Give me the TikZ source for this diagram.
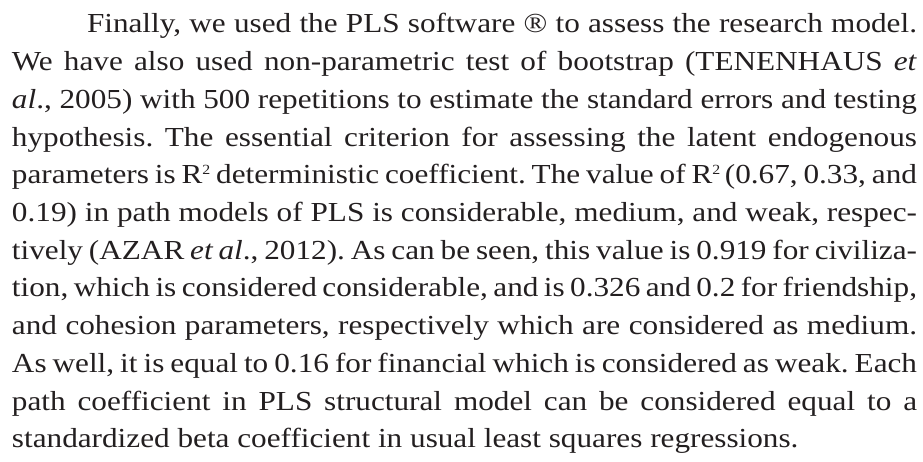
\documentclass[tikz,border=0pt]{standalone}
\usepackage{fontspec}
\setmainfont[FakeStretch=1.135]{Liberation Serif}
\definecolor{ink}{HTML}{231F20}
\newcommand\rsq{R\raisebox{0.34em}{\fontsize{14}{14}\selectfont 2}}
\begin{document}
\frenchspacing
\begin{tikzpicture}[x=1pt,y=1pt,
  txtline/.style={anchor=base west,inner sep=0pt,outer sep=0pt,text=ink,font=\fontsize{27.5}{37.7}\selectfont\frenchspacing}]
\useasboundingbox (0,0) rectangle (923,461);
\def\tw{905pt}
\node[txtline] (l1) at (87,{461-33}) {\makebox[830pt][s]{Finally, we used the PLS software ® to assess the research model.}};
\node[txtline] (l2) at (12,{461-33-37.7}) {\makebox[\tw][s]{We have also used non-parametric test of bootstrap (TENENHAUS \textit{et}}};
\node[txtline] (l3) at (12,{461-33-2*37.7}) {\makebox[\tw][s]{\textit{al}., 2005) with 500 repetitions to estimate the standard errors and testing}};
\node[txtline] (l4) at (12,{461-33-3*37.7}) {\makebox[\tw][s]{hypothesis. The essential criterion for assessing the latent endogenous}};
\node[txtline] (l5) at (12,{461-33-4*37.7}) {\makebox[\tw][s]{parameters is \rsq{} deterministic coefficient. The value of \rsq\,(0.67, 0.33, and}};
\node[txtline] (l6) at (12,{461-33-5*37.7}) {\makebox[\tw][s]{0.19) in path models of PLS is considerable, medium, and weak, respec-}};
\node[txtline] (l7) at (12,{461-33-6*37.7}) {\makebox[\tw][s]{tively (AZAR \textit{et al}., 2012). As can be seen, this value is 0.919 for civiliza-}};
\node[txtline] (l8) at (12,{461-33-7*37.7}) {\makebox[\tw][s]{tion, which is considered considerable, and is 0.326 and 0.2 for friendship,}};
\node[txtline] (l9) at (12,{461-33-8*37.7}) {\makebox[\tw][s]{and cohesion parameters, respectively which are considered as medium.}};
\node[txtline] (l10) at (12,{461-33-9*37.7}) {\makebox[\tw][s]{As well, it is equal to 0.16 for financial which is considered as weak. Each}};
\node[txtline] (l11) at (12,{461-33-10*37.7}) {\makebox[\tw][s]{path coefficient in PLS structural model can be considered equal to a}};
\node[txtline] (l12) at (12,{461-33-11*37.7}) {standardized beta coefficient in usual least squares regressions.};
\end{tikzpicture}
\end{document}
